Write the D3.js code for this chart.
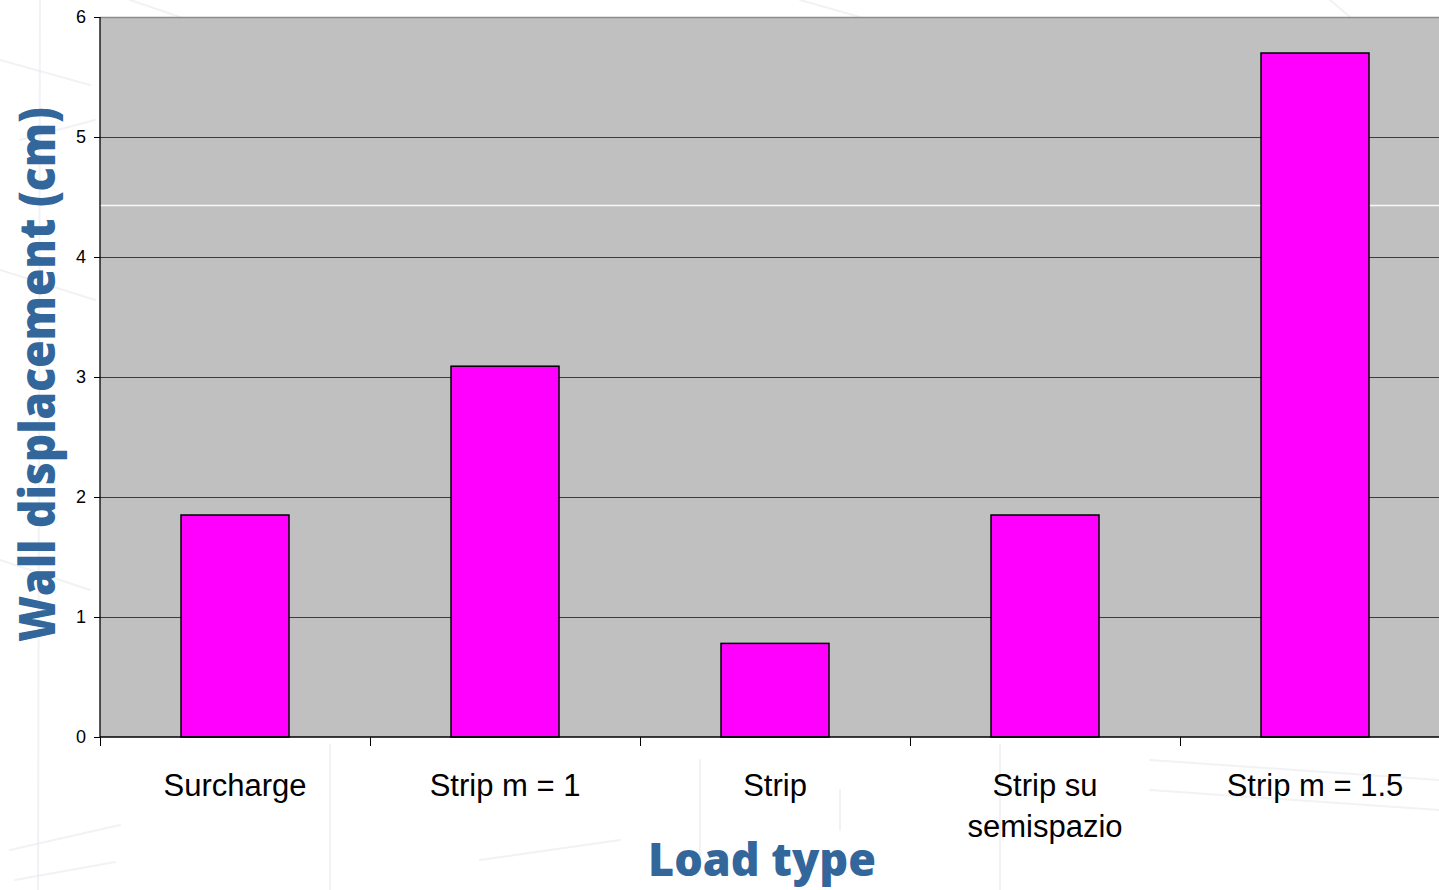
<!DOCTYPE html>
<html>
<head>
<meta charset="utf-8">
<script src="https://cdn.jsdelivr.net/npm/d3@7"></script>
<style>
  html, body { margin: 0; padding: 0; background: #ffffff; }
  svg { display: block; }
</style>
</head>
<body>
<svg id="chart" width="1439" height="890"></svg>
<script>
// Wall displacement per load type
const categories = ["Surcharge", "Strip m = 1", "Strip", "Strip su semispazio", "Strip m = 1.5"];
const categoryLines = [["Surcharge"], ["Strip m = 1"], ["Strip"], ["Strip su", "semispazio"], ["Strip m = 1.5"]];
const displacement = [1.85, 3.09, 0.78, 1.85, 5.70];
const yTicks = [0, 1, 2, 3, 4, 5, 6];

const svg = d3.select("#chart");
const W = 1439, H = 890;

const plot = { left: 100, top: 17, bottom: 737, right: 1450 };

const x = d3.scaleBand()
  .domain(categories)
  .range([plot.left, plot.right])
  .paddingInner(0.6)
  .paddingOuter(0.3);

const y = d3.scaleLinear().domain([0, 6]).range([plot.bottom, plot.top]);

// faint sketched backdrop strokes
const sketch = svg.append("g")
  .attr("fill", "none")
  .attr("stroke", "#e3e7ee")
  .attr("stroke-linecap", "round");
const strokes = [
  [[0, 60], [90, 85]], [[20, 140], [95, 120]], [[40, 0], [38, 890]],
  [[0, 270], [95, 300]], [[0, 560], [90, 590]], [[10, 850], [120, 825]],
  [[15, 880], [115, 862]], [[330, 745], [330, 890]], [[480, 860], [620, 840]],
  [[700, 760], [700, 870]], [[1000, 745], [1000, 890]], [[840, 790], [840, 830]],
  [[1150, 760], [1439, 780]], [[1150, 790], [1439, 810]], [[130, 0], [180, 17]],
  [[800, 0], [860, 17]], [[1330, 0], [1350, 17]]
];
strokes.forEach(s => sketch.append("path")
  .attr("d", d3.line()(s))
  .attr("stroke-width", 2)
  .attr("opacity", 0.55));

// plot area
svg.append("rect")
  .attr("x", plot.left).attr("y", plot.top)
  .attr("width", W - plot.left).attr("height", plot.bottom - plot.top)
  .attr("fill", "#c0c0c0");

// top frame
svg.append("line")
  .attr("x1", plot.left).attr("x2", W)
  .attr("y1", plot.top + 0.5).attr("y2", plot.top + 0.5)
  .attr("stroke", "#8c8c8c").attr("stroke-width", 1.5);

// gridlines
svg.append("g")
  .selectAll("line")
  .data(yTicks.filter(t => t > 0 && t < 6))
  .join("line")
  .attr("x1", plot.left).attr("x2", W)
  .attr("y1", d => Math.round(y(d)) + 0.5).attr("y2", d => Math.round(y(d)) + 0.5)
  .attr("stroke", "#3c3c3c").attr("stroke-width", 1);

// light streak across the plot area
svg.append("line")
  .attr("x1", plot.left).attr("x2", W)
  .attr("y1", 205.5).attr("y2", 205.5)
  .attr("stroke", "#ffffff").attr("stroke-width", 1.3).attr("opacity", 0.9);

// bars
svg.append("g")
  .selectAll("rect")
  .data(categories)
  .join("rect")
  .attr("x", d => x(d))
  .attr("y", (d, i) => y(displacement[i]))
  .attr("width", x.bandwidth())
  .attr("height", (d, i) => y(0) - y(displacement[i]))
  .attr("fill", "#ff00ff")
  .attr("stroke", "#000000")
  .attr("stroke-width", 1.5);

// y axis
const yAxis = svg.append("g")
  .attr("transform", `translate(${plot.left},0)`)
  .call(d3.axisLeft(y).tickValues(yTicks).tickSize(6).tickPadding(8).tickFormat(d3.format("d")));
yAxis.select(".domain").attr("stroke", "#000").attr("stroke-width", 1.3).attr("d", `M0,${plot.top}V${plot.bottom}`);
yAxis.selectAll(".tick line").attr("stroke", "#000");
yAxis.selectAll(".tick text")
  .attr("font-family", "Liberation Sans, Arial, sans-serif")
  .attr("font-size", 18)
  .attr("fill", "#000");

// x axis baseline and category separators
const sep = [0, 1, 2, 3, 4].map(i => plot.left + i * x.step());
const xg = svg.append("g");
xg.append("line")
  .attr("x1", plot.left).attr("x2", W)
  .attr("y1", plot.bottom).attr("y2", plot.bottom)
  .attr("stroke", "#000").attr("stroke-width", 1.3);
xg.selectAll("line.sep")
  .data(sep)
  .join("line")
  .attr("class", "sep")
  .attr("x1", d => Math.round(d) + 0.5).attr("x2", d => Math.round(d) + 0.5)
  .attr("y1", plot.bottom).attr("y2", plot.bottom + 9)
  .attr("stroke", "#000").attr("stroke-width", 1);

// category labels
const labels = xg.selectAll("text.cat")
  .data(categories)
  .join("text")
  .attr("class", "cat")
  .attr("x", d => x(d) + x.bandwidth() / 2)
  .attr("y", 796)
  .attr("text-anchor", "middle")
  .attr("font-family", "Liberation Sans, Arial, sans-serif")
  .attr("font-size", 31)
  .attr("fill", "#000");
labels.each(function(d, i) {
  const t = d3.select(this);
  categoryLines[i].forEach((line, k) => {
    t.append("tspan")
      .attr("x", x(d) + x.bandwidth() / 2)
      .attr("dy", k === 0 ? 0 : 41)
      .text(line);
  });
});

// axis titles
const titleFont = "'Open Sans', 'DejaVu Sans', sans-serif";
svg.append("text")
  .attr("transform", "translate(55,374.5) rotate(-90)")
  .attr("text-anchor", "middle")
  .attr("font-family", titleFont)
  .attr("font-weight", 800)
  .attr("font-size", 50)
  .attr("fill", "#33669a")
  .attr("textLength", 535)
  .attr("lengthAdjust", "spacingAndGlyphs")
  .text("Wall displacement (cm)");

svg.append("text")
  .attr("x", 762)
  .attr("y", 876)
  .attr("text-anchor", "middle")
  .attr("font-family", titleFont)
  .attr("font-weight", 800)
  .attr("font-size", 46)
  .attr("fill", "#33669a")
  .attr("textLength", 228)
  .attr("lengthAdjust", "spacingAndGlyphs")
  .text("Load type");
</script>
</body>
</html>
